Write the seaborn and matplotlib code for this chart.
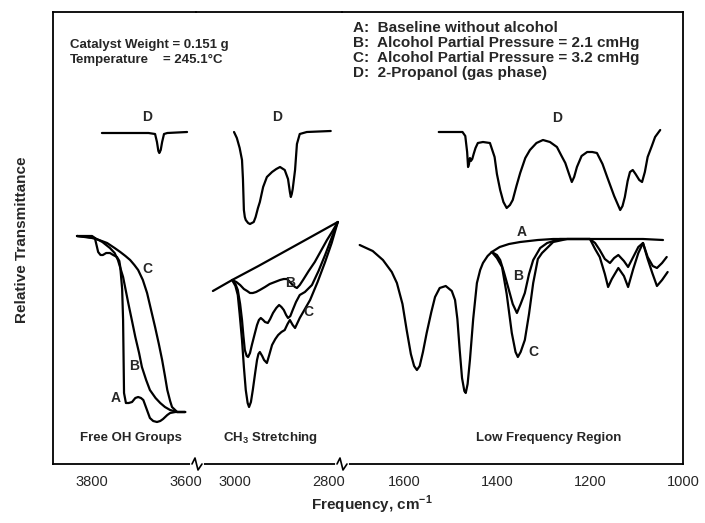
import matplotlib
matplotlib.use("Agg")
import matplotlib.pyplot as plt
from matplotlib.lines import Line2D
import pandas as pd
import seaborn as sns

# ---- data: (frequency cm-1, relative transmittance, arbitrary units) ----
# Free OH groups
oh_a = [(3832, 228), (3800, 228), (3794, 226), (3790, 218), (3787, 212), (3782, 209), (3777, 209),
        (3770, 211), (3762, 211), (3755, 209), (3747, 207), (3742, 203), (3740, 197), (3736, 175),
        (3734, 144), (3732, 71), (3728, 61), (3722, 61), (3715, 62), (3708, 66), (3702, 67),
        (3696, 66), (3691, 64), (3684, 55), (3677, 46), (3670, 43), (3662, 42), (3655, 43),
        (3649, 45), (3640, 49), (3634, 51), (3623, 52), (3602, 52)]
oh_b = [(3832, 228), (3810, 227), (3794, 226), (3778, 222), (3762, 216), (3752, 211), (3745, 204),
        (3734, 187), (3723, 161), (3715, 143), (3708, 127), (3700, 111), (3694, 97), (3685, 84),
        (3677, 74), (3665, 66), (3655, 61), (3645, 57), (3634, 54), (3619, 52), (3602, 52)]
oh_c = [(3832, 228), (3800, 226), (3785, 224), (3768, 221), (3752, 216), (3740, 212), (3729, 208),
        (3719, 204), (3710, 199), (3702, 194), (3692, 184), (3683, 171), (3675, 155), (3666, 137),
        (3658, 120), (3651, 104), (3645, 88), (3640, 74), (3634, 63), (3630, 57), (3619, 52),
        (3602, 52)]
oh_d = [(3779, 331), (3680, 331), (3666, 330), (3662, 322), (3659, 313), (3657, 311), (3654, 314),
        (3651, 322), (3647, 330), (3640, 331), (3598, 332)]

# CH3 stretching
ch_a = [(3047, 173), (3006, 184), (2950, 198), (2900, 211), (2850, 224), (2781, 242)]
ch_b = [(3006, 184), (2997, 182), (2989, 179), (2981, 175), (2974, 173), (2968, 171), (2962, 171),
        (2955, 172), (2947, 174), (2936, 177), (2926, 180), (2915, 182), (2904, 184), (2896, 185),
        (2889, 185), (2883, 182), (2877, 179), (2872, 177), (2868, 176), (2862, 179), (2855, 184),
        (2843, 193), (2830, 202), (2817, 213), (2804, 224), (2792, 233), (2781, 242)]
ch_mid = [(3006, 184), (2999, 180), (2994, 174), (2989, 160), (2985, 144), (2982, 128), (2979, 114),
          (2975, 108), (2972, 107), (2968, 111), (2964, 119), (2958, 130), (2953, 139), (2949, 144),
          (2945, 146), (2940, 144), (2936, 142), (2930, 141), (2925, 145), (2919, 151), (2912, 156),
          (2906, 159), (2901, 157), (2896, 154), (2891, 149), (2887, 146), (2882, 148), (2877, 154),
          (2870, 162), (2862, 169), (2851, 172), (2836, 179), (2822, 193), (2808, 209), (2795, 225),
          (2781, 242)]
ch_c = [(3006, 184), (2999, 178), (2994, 169), (2990, 150), (2985, 124), (2981, 97), (2977, 74),
        (2973, 61), (2970, 57), (2966, 62), (2962, 74), (2957, 91), (2953, 104), (2950, 110),
        (2947, 112), (2942, 108), (2938, 104), (2932, 101), (2927, 109), (2921, 119), (2914, 125),
        (2908, 129), (2901, 132), (2894, 134), (2888, 140), (2883, 144), (2877, 139), (2872, 136),
        (2867, 141), (2862, 146), (2851, 155), (2840, 164), (2824, 182), (2808, 202), (2794, 221),
        (2781, 242)]
ch_d = [(3002, 332), (2996, 326), (2990, 316), (2985, 304), (2983, 285), (2981, 254), (2979, 247),
        (2977, 244), (2972, 241), (2968, 240), (2964, 241), (2960, 242), (2956, 247), (2951, 256),
        (2947, 262), (2940, 277), (2932, 287), (2921, 292), (2912, 295), (2904, 297), (2894, 294),
        (2887, 285), (2883, 272), (2881, 267), (2879, 270), (2877, 275), (2872, 294), (2868, 320),
        (2862, 330), (2847, 332), (2796, 333)]

# Low frequency region
lf_common = [(1695, 219), (1667, 213), (1645, 204), (1626, 192), (1615, 181), (1603, 160),
             (1594, 134), (1585, 110), (1578, 98), (1572, 94), (1566, 98), (1559, 112), (1551, 131),
             (1541, 152), (1533, 167), (1523, 176), (1510, 178), (1497, 173), (1490, 164),
             (1485, 145), (1480, 114), (1475, 86), (1470, 73), (1467, 71), (1463, 80), (1458, 104),
             (1451, 145), (1443, 181), (1436, 194), (1430, 201), (1420, 208), (1411, 212)]
lf_a = [(1411, 212), (1394, 217), (1374, 220), (1350, 222), (1312, 224), (1279, 225), (1243, 225),
        (1189, 225), (1137, 225), (1086, 225), (1043, 224)]
lf_b = [(1411, 212), (1400, 209), (1393, 204), (1385, 192), (1376, 177), (1366, 160), (1357, 151),
        (1349, 160), (1340, 171), (1331, 190), (1322, 204), (1307, 216), (1292, 221), (1265, 225),
        (1243, 225), (1200, 225), (1189, 221), (1179, 214), (1168, 205), (1157, 201), (1148, 206),
        (1139, 209), (1127, 203), (1118, 197), (1107, 207), (1096, 217), (1086, 221), (1081, 214),
        (1076, 207), (1065, 198), (1056, 196), (1045, 201), (1035, 207)]
lf_c = [(1411, 212), (1400, 206), (1389, 197), (1379, 170), (1368, 131), (1360, 112), (1355, 107),
        (1349, 112), (1340, 124), (1331, 150), (1322, 181), (1312, 205), (1303, 211), (1279, 222),
        (1249, 225), (1200, 225), (1189, 215), (1179, 207), (1168, 190), (1161, 177), (1153, 185),
        (1139, 196), (1127, 188), (1118, 177), (1107, 195), (1096, 211), (1086, 221), (1076, 205),
        (1066, 191), (1056, 178), (1045, 184), (1033, 192)]
lf_d = [(1525, 332), (1474, 332), (1468, 328), (1464, 312), (1462, 297), (1460, 300), (1458, 306),
        (1456, 303), (1453, 305), (1450, 310), (1446, 316), (1441, 321), (1430, 322), (1415, 321),
        (1405, 307), (1400, 290), (1393, 274), (1386, 262), (1379, 256), (1372, 259), (1366, 264),
        (1358, 278), (1350, 291), (1339, 306), (1329, 314), (1315, 321), (1301, 324), (1286, 322),
        (1271, 317), (1261, 308), (1253, 301), (1245, 290), (1239, 282), (1234, 287), (1228, 297),
        (1218, 308), (1206, 312), (1195, 312), (1185, 311), (1173, 300), (1163, 287), (1148, 268),
        (1135, 254), (1130, 258), (1125, 267), (1119, 283), (1114, 292), (1108, 294), (1102, 290),
        (1094, 284), (1088, 282), (1082, 292), (1076, 307), (1067, 318), (1060, 327), (1049, 334)]

oh_curves = [oh_a, oh_b, oh_c, oh_d]
ch_curves = [ch_a, ch_b, ch_mid, ch_c, ch_d]
lf_curves = [lf_common, lf_a, lf_b, lf_c, lf_d]

W, H = 705, 523

sns.set_style("white")
plt.rcParams['font.family'] = ['Liberation Sans', 'DejaVu Sans']
plt.rcParams['mathtext.fontset'] = 'custom'
plt.rcParams['mathtext.rm'] = 'Liberation Sans'
plt.rcParams['mathtext.bf'] = 'Liberation Sans:bold'

fig = plt.figure(figsize=(W / 100, H / 100), dpi=100)
bottom = 1 - 464 / H
height = (464 - 12) / H
ax1 = fig.add_axes([53 / W, bottom, (196 - 53) / W, height])
ax2 = fig.add_axes([196 / W, bottom, (342 - 196) / W, height], sharey=ax1)
ax3 = fig.add_axes([342 / W, bottom, (683 - 342) / W, height], sharey=ax1)


def draw(ax, pts):
    df = pd.DataFrame(pts, columns=['freq', 'T'])
    sns.lineplot(data=df, x='freq', y='T', sort=False, estimator=None,
                 color='black', lw=1.6, ax=ax, legend=False)


for c in oh_curves:
    draw(ax1, c)
for c in ch_curves:
    draw(ax2, c)
for c in lf_curves:
    draw(ax3, c)

ax1.set_xlim(3883, 3579)
ax2.set_xlim(3083, 2772)
ax3.set_xlim(1733, 1000)
ax1.set_ylim(0, 452)

ax1.set_xticks([3800, 3700, 3600], labels=['3800', '', '3600'])
ax2.set_xticks([3000, 2900, 2800], labels=['3000', '', '2800'])
ax3.set_xticks([1600, 1500, 1400, 1300, 1200, 1100, 1000],
               labels=['1600', '', '1400', '', '1200', '', '1000'])

for ax in (ax1, ax2, ax3):
    ax.set_xlabel('')
    ax.set_ylabel('')
    ax.set_yticks([])
    ax.patch.set_alpha(0)
    ax.tick_params(axis='x', direction='in', length=7, width=1.1, pad=8,
                   labelsize=10.5, color='black')
    for s in ax.spines.values():
        s.set_color('black')
        s.set_linewidth(1.3)
ax1.spines['right'].set_visible(False)
ax2.spines['left'].set_visible(False)
ax2.spines['right'].set_visible(False)
ax3.spines['left'].set_visible(False)


def fx(px):
    return px / W


def fy(py):
    return 1 - py / H


# axis break marks
for bx in (197, 342):
    fig.add_artist(Line2D([fx(bx - 5), fx(bx + 5)], [fy(464), fy(464)], color='white', lw=3,
                          transform=fig.transFigure))
    fig.add_artist(Line2D([fx(bx - 5), fx(bx - 2), fx(bx + 1), fx(bx + 5)],
                          [fy(464), fy(458), fy(470), fy(464)], color='black', lw=1.2,
                          transform=fig.transFigure))

bold = dict(fontweight='bold', fontsize=10)
# header text
fig.text(fx(70), fy(45), 'Catalyst Weight = 0.151 g', va='center', fontweight='bold', fontsize=9.5)
fig.text(fx(70), fy(60), 'Temperature', va='center', fontweight='bold', fontsize=9.5)
fig.text(fx(163), fy(60), '= 245.1°C', va='center', fontweight='bold', fontsize=9.5)
legend_lines = ['A:  Baseline without alcohol',
                'B:  Alcohol Partial Pressure = 2.1 cmHg',
                'C:  Alcohol Partial Pressure = 3.2 cmHg',
                'D:  2-Propanol (gas phase)']
for i, t in enumerate(legend_lines):
    fig.text(fx(353), fy(28 + 15 * i), t, va='center', fontweight='bold', fontsize=11)

# curve labels
curve_labels = [('D', 147, 117), ('D', 277, 117), ('D', 557, 118),
                ('A', 116, 398), ('B', 134, 366), ('C', 147, 269),
                ('B', 290, 283), ('C', 308, 312),
                ('A', 522, 232), ('B', 518, 276), ('C', 533, 352)]
for t, x, y in curve_labels:
    fig.text(fx(x), fy(y), t, ha='center', va='center', **bold)

# region labels
fig.text(fx(131), fy(438), 'Free OH Groups', ha='center', va='center', fontweight='bold', fontsize=9.5)
fig.text(fx(270), fy(438), r'CH$_{\mathbf{3}}$ Stretching', ha='center', va='center',
         fontweight='bold', fontsize=9.5)
fig.text(fx(549), fy(438), 'Low Frequency Region', ha='center', va='center',
         fontweight='bold', fontsize=9.5)

fig.text(fx(22), fy(240), 'Relative Transmittance', rotation=90, ha='center', va='center',
         fontweight='bold', fontsize=11)
fig.text(fx(372), fy(505), r'Frequency, cm$^{\mathbf{-1}}$', ha='center', va='center',
         fontweight='bold', fontsize=11)

fig.savefig('out.png', dpi=100)
